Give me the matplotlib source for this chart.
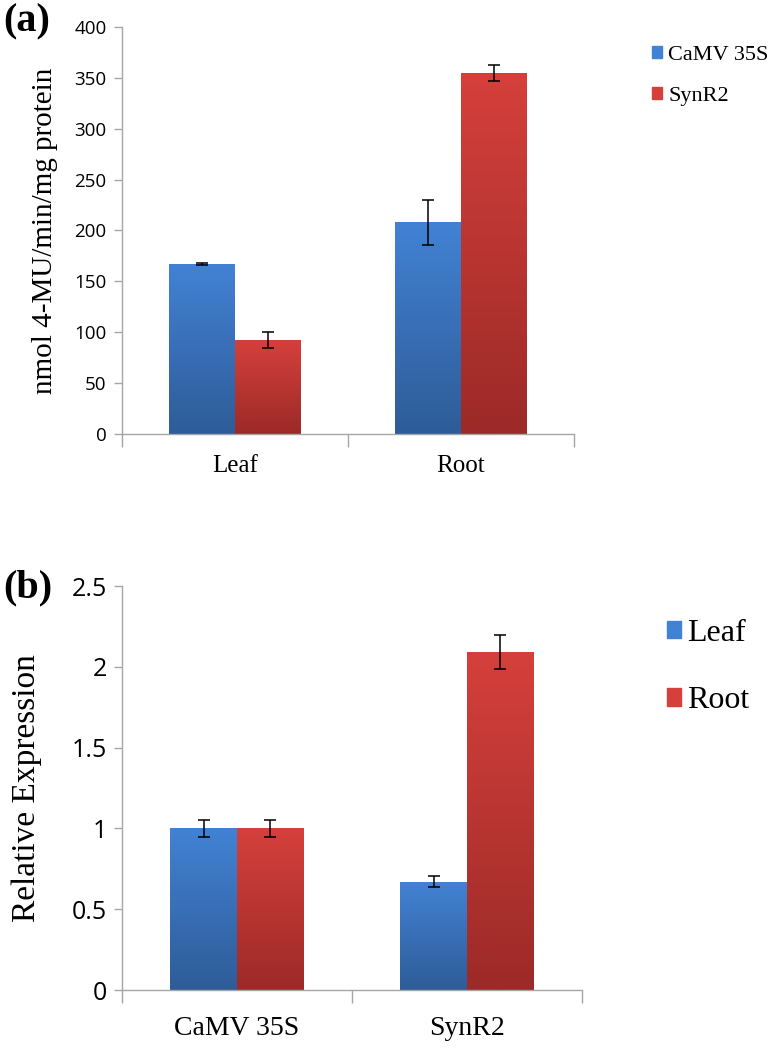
import numpy as np
import matplotlib
matplotlib.use("Agg")
import matplotlib.pyplot as plt
from matplotlib.colors import LinearSegmentedColormap
from matplotlib.patches import Rectangle

plt.rcParams["font.family"] = ["Liberation Serif", "DejaVu Serif"]

# (a) GUS activity
tissues = ["Leaf", "Root"]
gus_camv = [167, 208]
gus_camv_err = [1, 22]
gus_synr2 = [92, 355]
gus_synr2_err = [8, 8]

# (b) relative expression
promoters = ["CaMV 35S", "SynR2"]
expr_leaf = [1.0, 0.67]
expr_leaf_err = [0.05, 0.035]
expr_root = [1.0, 2.09]
expr_root_err = [0.05, 0.105]

BLUE = ("#4282d4", "#2e5c98")   # top, bottom
RED = ("#d5403b", "#9c2a28")
AXIS_GREY = "#a6a6a6"
BAR_W = 0.29


def gradient_bars(ax, bars, colors):
    cmap = LinearSegmentedColormap.from_list("g", [colors[1], colors[0]])
    grad = np.linspace(0, 1, 256).reshape(-1, 1)
    for b in bars:
        x0, y0, w, h = b.get_x(), b.get_y(), b.get_width(), b.get_height()
        im = ax.imshow(grad, extent=[x0, x0 + w, y0, y0 + h], origin="lower",
                       cmap=cmap, aspect="auto", zorder=2)
        im.set_clip_path(b)


def draw_panel(ax, cats, v1, e1, v2, e2, ymax, ystep, tick_size, cat_size, cat_pad):
    x = np.arange(len(cats))
    b1 = ax.bar(x - BAR_W / 2, v1, BAR_W, color=BLUE[0], zorder=1, linewidth=0)
    b2 = ax.bar(x + BAR_W / 2, v2, BAR_W, color=RED[0], zorder=1, linewidth=0)
    gradient_bars(ax, b1, BLUE)
    gradient_bars(ax, b2, RED)
    for xs, v, e in [(x - BAR_W / 2, v1, e1), (x + BAR_W / 2, v2, e2)]:
        ax.errorbar(xs, v, yerr=e, fmt="none", ecolor="black", elinewidth=1.1,
                    capsize=4.5, capthick=1.1, zorder=4)

    ax.set_xlim(-0.5, len(cats) - 0.5)
    ax.set_ylim(0, ymax)
    ax.set_yticks(np.arange(0, ymax + ystep / 2, ystep))
    ax.yaxis.set_major_formatter(plt.FuncFormatter(lambda v, p: f"{v:g}"))
    for lab in ax.get_yticklabels():
        lab.set_fontfamily("Open Sans")
        lab.set_fontsize(tick_size)

    # tick marks between categories, labels centred without marks
    ax.set_xticks(np.arange(-0.5, len(cats), 1.0))
    ax.set_xticklabels([])
    ax.set_xticks(x, minor=True)
    ax.set_xticklabels(cats, minor=True, fontsize=cat_size)
    ax.tick_params(axis="x", which="major", length=9, color=AXIS_GREY, width=1)
    ax.tick_params(axis="x", which="minor", length=0, pad=cat_pad)
    ax.tick_params(axis="y", length=6, color=AXIS_GREY, width=1, pad=5)

    for s in ["top", "right"]:
        ax.spines[s].set_visible(False)
    for s in ["left", "bottom"]:
        ax.spines[s].set_color(AXIS_GREY)
        ax.spines[s].set_linewidth(1)


fig = plt.figure(figsize=(7.74, 10.51), dpi=100)

ax_a = fig.add_axes([0.1576, 0.5871, 0.584, 0.3873])
draw_panel(ax_a, tissues, gus_camv, gus_camv_err, gus_synr2, gus_synr2_err,
           400, 50, 13.5, 18, 15)
ax_a.set_ylabel("nmol 4-MU/min/mg protein", fontsize=21, labelpad=12)
handles_a = [Rectangle((0, 0), 1, 1, color=BLUE[0]), Rectangle((0, 0), 1, 1, color=RED[0])]
ax_a.legend(handles_a, ["CaMV 35S", "SynR2"], loc="upper left",
            bbox_to_anchor=(1.154, 0.976), frameon=False, fontsize=16,
            handlelength=0.45, handleheight=0.45, handletextpad=0.25,
            labelspacing=1.0, borderaxespad=0)

ax_b = fig.add_axes([0.1576, 0.0580, 0.5943, 0.3844])
draw_panel(ax_b, promoters, expr_leaf, expr_leaf_err, expr_root, expr_root_err,
           2.5, 0.5, 18, 20, 19)
ax_b.set_ylabel("Relative Expression", fontsize=24, labelpad=21)
handles_b = [Rectangle((0, 0), 1, 1, color=BLUE[0]), Rectangle((0, 0), 1, 1, color=RED[0])]
ax_b.legend(handles_b, ["Leaf", "Root"], loc="upper left",
            bbox_to_anchor=(1.156, 0.95), frameon=False, fontsize=23,
            handlelength=0.45, handleheight=0.45, handletextpad=0.2,
            labelspacing=1.2, borderaxespad=0)

fig.text(0.004, 0.979, "(a)", fontsize=29, fontweight="bold", va="center", ha="left")
fig.text(0.004, 0.441, "(b)", fontsize=29, fontweight="bold", va="center", ha="left")

fig.savefig("out.png", dpi=100, facecolor="white")
